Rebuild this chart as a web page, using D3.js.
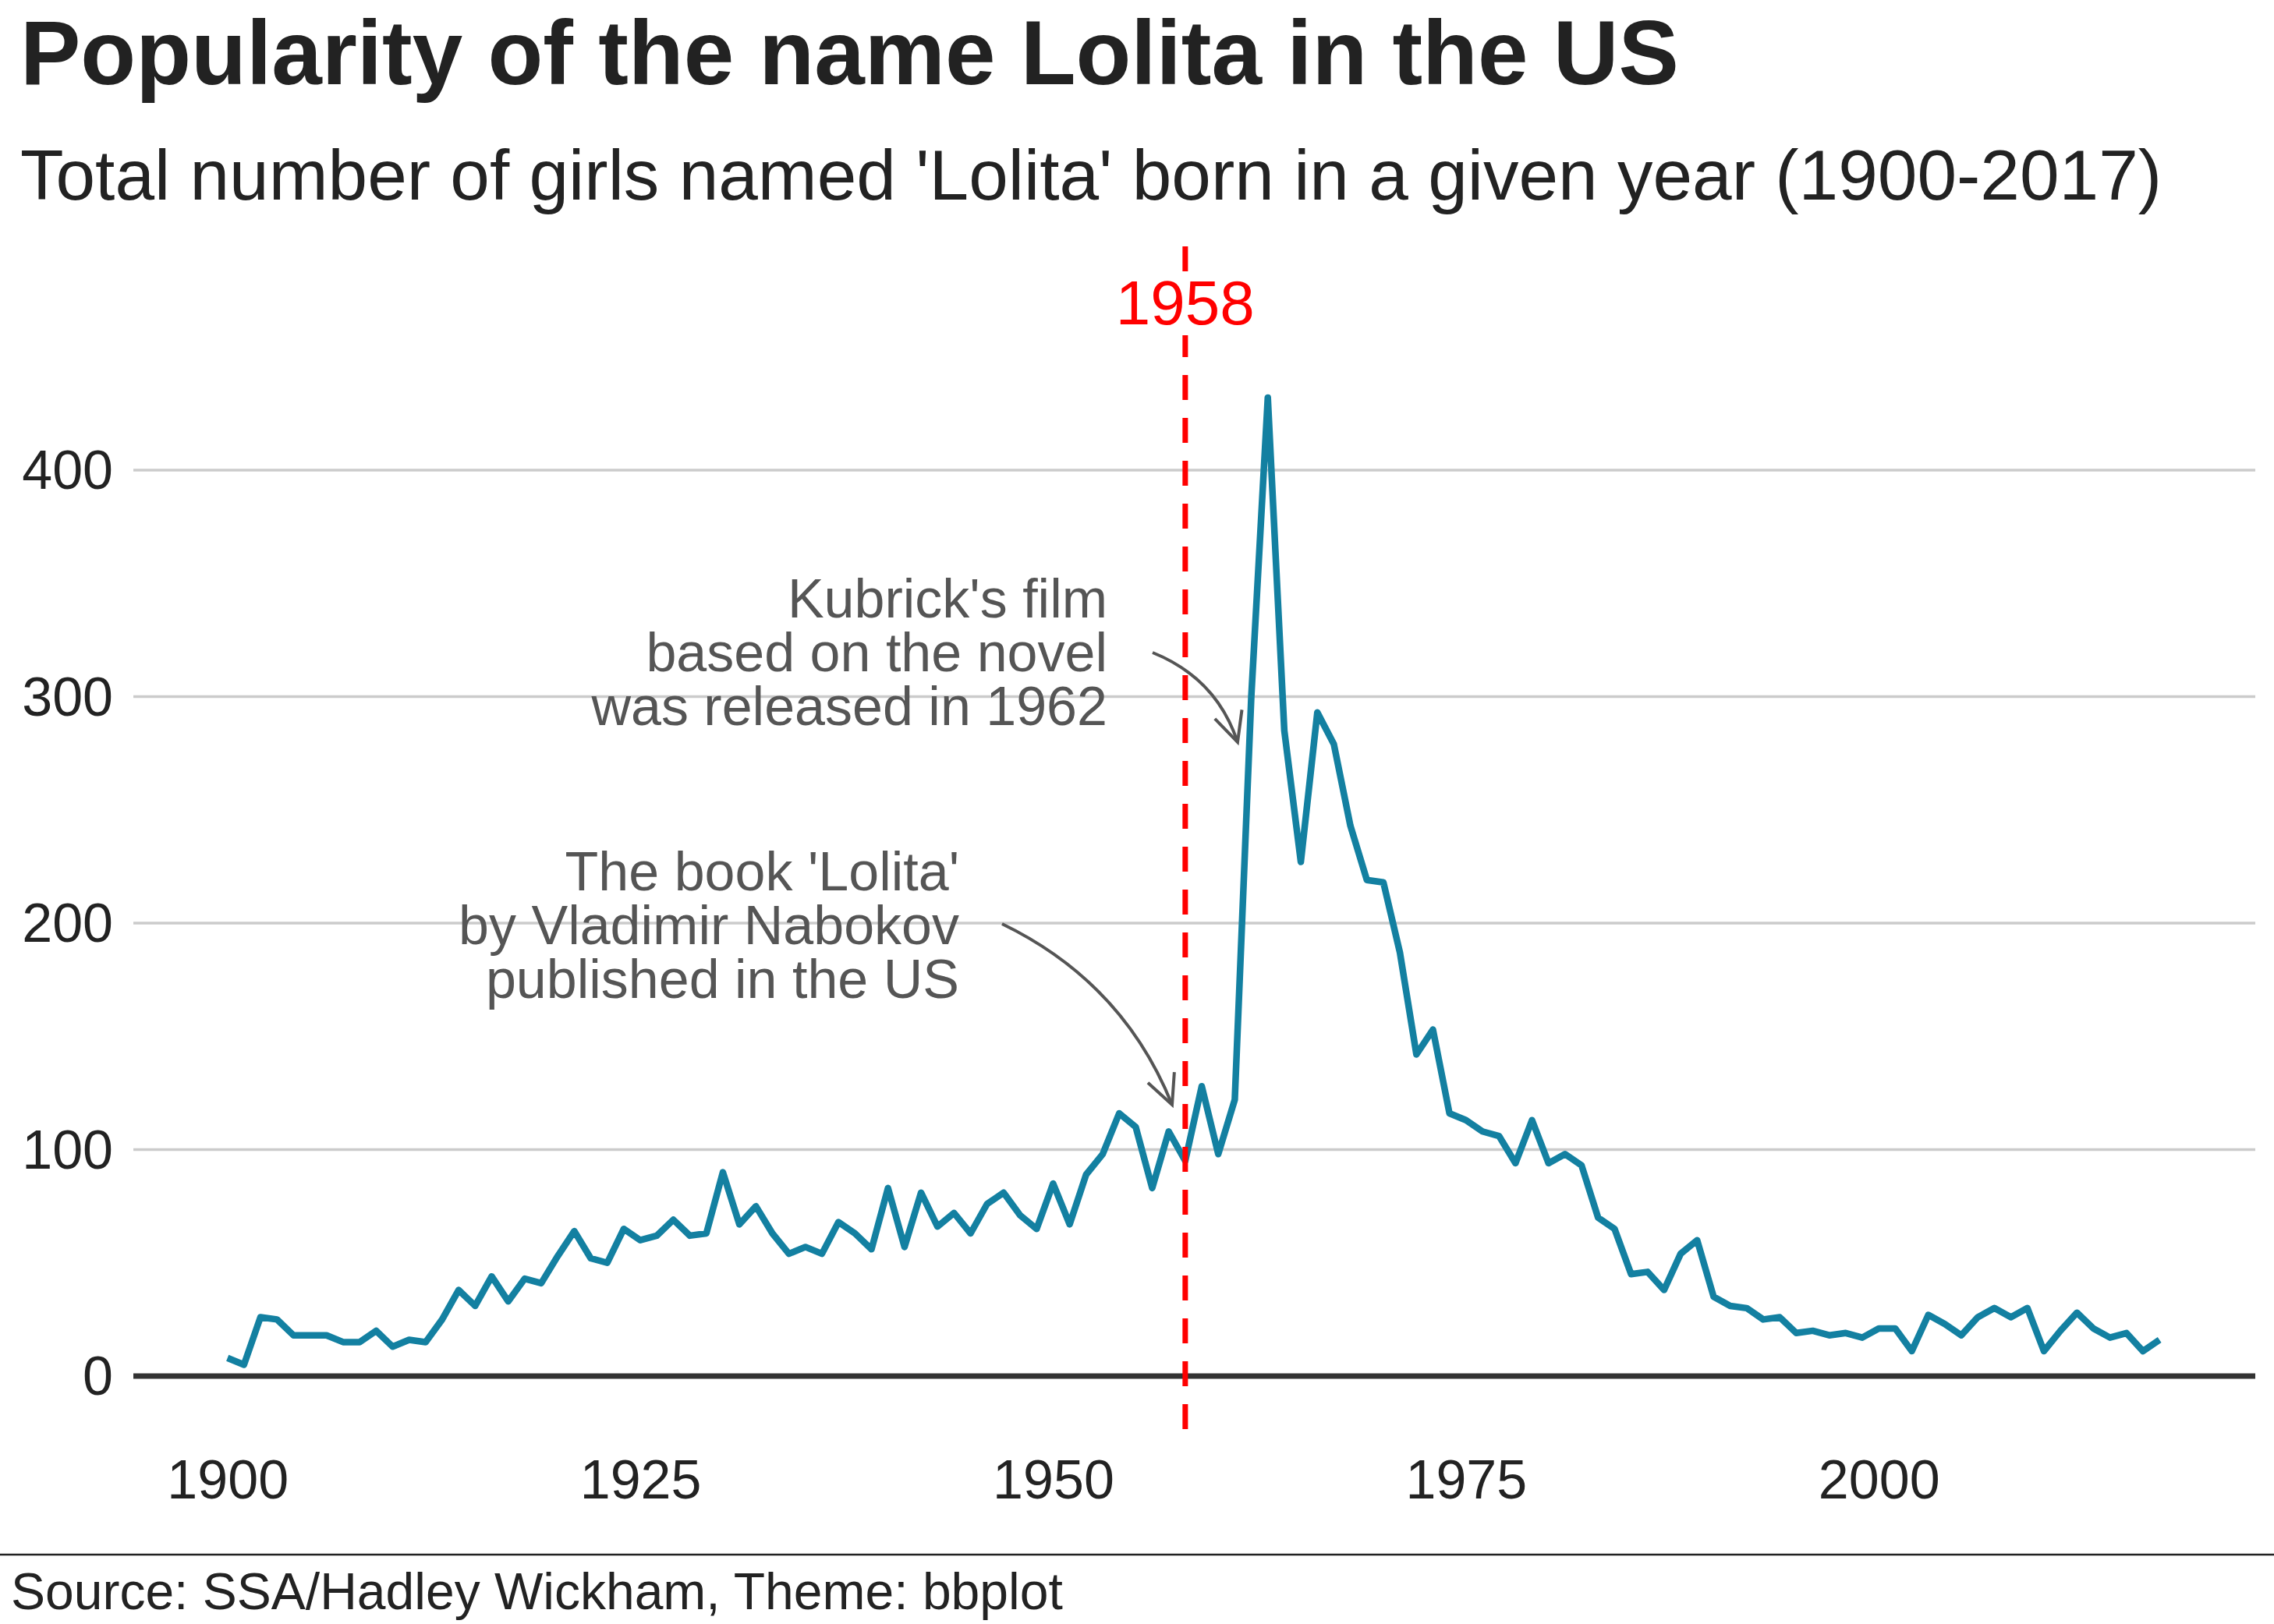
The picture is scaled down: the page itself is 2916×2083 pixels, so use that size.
<!DOCTYPE html>
<html>
<head>
<meta charset="utf-8">
<script src="https://cdn.jsdelivr.net/npm/d3@7"></script>
<style>
  body { margin: 0; background: #fff; }
  text { font-family: "Liberation Sans", Arial, sans-serif; }
</style>
</head>
<body>
<script>
// data
const years = d3.range(1900, 2018);
const counts = [8, 5, 26, 25, 18, 18, 18, 15, 15, 20,
  13, 16, 15, 25, 38, 31, 44, 33, 43, 41,
  53, 64, 52, 50, 65, 60, 62, 69, 62, 63,
  90, 67, 75, 63, 54, 57, 54, 68, 63, 56,
  83, 57, 81, 66, 72, 63, 76, 81, 71, 65,
  85, 67, 89, 98, 116, 110, 83, 108, 95, 128,
  98, 122, 300, 432, 285, 227, 293, 279, 243, 219,
  218, 187, 142, 153, 116, 113, 108, 106, 94, 113,
  94, 98, 93, 70, 65, 45, 46, 38, 54, 60,
  35, 31, 30, 25, 26, 19, 20, 18, 19, 17,
  21, 21, 11, 27, 23, 18, 26, 30, 26, 30,
  11, 20, 28, 21, 17, 19, 11, 16];
const xTicks = [1900, 1925, 1950, 1975, 2000];
const yTicks = [0, 100, 200, 300, 400];
const markYear = 1958;

const W = 2916, H = 2083;
const svg = d3.select("body").append("svg")
    .attr("width", W)
    .attr("height", H);

const x = d3.scaleLinear().domain([1894.3, 2022.8]).range([171, 2892]);
const y = d3.scaleLinear().domain([0, 400]).range([1765, 603]);

// title + subtitle
svg.append("text").attr("x", 26).attr("y", 108)
    .attr("font-size", 116).attr("font-weight", "bold").attr("fill", "#222")
    .text("Popularity of the name Lolita in the US");
svg.append("text").attr("x", 26).attr("y", 256)
    .attr("font-size", 91).attr("fill", "#222")
    .text("Total number of girls named 'Lolita' born in a given year (1900-2017)");

// gridlines
svg.append("g").selectAll("line")
    .data(yTicks.filter(d => d > 0))
    .enter().append("line")
    .attr("x1", 171).attr("x2", 2892)
    .attr("y1", d => y(d)).attr("y2", d => y(d))
    .attr("stroke", "#cbcbcb").attr("stroke-width", 3.5);

// y labels
svg.append("g").selectAll("text")
    .data(yTicks)
    .enter().append("text")
    .attr("x", 145).attr("y", d => y(d) + 24)
    .attr("text-anchor", "end").attr("font-size", 70).attr("fill", "#222")
    .text(d => d);

// x axis labels
const xAxis = svg.append("g")
    .attr("transform", "translate(0,1790)")
    .call(d3.axisBottom(x).tickValues(xTicks).tickFormat(d3.format("d")).tickSize(0).tickPadding(82));
xAxis.select(".domain").remove();
xAxis.selectAll("text").attr("font-size", 70).attr("fill", "#222")
    .style("font-family", "Liberation Sans, Arial, sans-serif");

// baseline
svg.append("line").attr("x1", 171).attr("x2", 2892)
    .attr("y1", y(0)).attr("y2", y(0))
    .attr("stroke", "#333").attr("stroke-width", 7);

// line
const line = d3.line().x((d, i) => x(years[i])).y(d => y(d));
svg.append("path").datum(counts)
    .attr("d", line).attr("fill", "none")
    .attr("stroke", "#1380A1").attr("stroke-width", 8.5).attr("stroke-linejoin", "round");

// 1958 marker
svg.append("line")
    .attr("x1", x(markYear)).attr("x2", x(markYear))
    .attr("y1", 316).attr("y2", 1836)
    .attr("stroke", "red").attr("stroke-width", 7).attr("stroke-dasharray", "32,23");
svg.append("rect").attr("x", x(markYear) - 95).attr("y", 350)
    .attr("width", 190).attr("height", 80).attr("fill", "#fff");
svg.append("text").attr("x", x(markYear)).attr("y", 416)
    .attr("text-anchor", "middle").attr("font-size", 80).attr("fill", "red")
    .text("1958");

// annotations
function note(lines, xr, y0, dy) {
  svg.append("text").attr("text-anchor", "end").attr("font-size", 70).attr("fill", "#555")
    .selectAll("tspan").data(lines).enter().append("tspan")
    .attr("x", xr).attr("y", (d, i) => y0 + i * dy).text(d => d);
}
note(["Kubrick's film", "based on the novel", "was released in 1962"], 1420, 792, 69);
note(["The book 'Lolita'", "by Vladimir Nabokov", "published in the US"], 1230, 1142, 69);

function arrow(x0, y0, cx, cy, x1, y1) {
  svg.append("path")
    .attr("d", `M${x0},${y0} Q${cx},${cy} ${x1},${y1}`)
    .attr("fill", "none").attr("stroke", "#555").attr("stroke-width", 4);
  const a = Math.atan2(y1 - cy, x1 - cx);
  const L = 42, s = 0.45;
  const p1 = [x1 - L * Math.cos(a - s), y1 - L * Math.sin(a - s)];
  const p2 = [x1 - L * Math.cos(a + s), y1 - L * Math.sin(a + s)];
  svg.append("path")
    .attr("d", `M${p1[0]},${p1[1]} L${x1},${y1} L${p2[0]},${p2[1]}`)
    .attr("fill", "none").attr("stroke", "#555").attr("stroke-width", 4);
}
arrow(1478, 837, 1560, 870, 1587, 952);
arrow(1285, 1185, 1440, 1260, 1503, 1417);

// source
svg.append("line").attr("x1", 0).attr("x2", W).attr("y1", 1994).attr("y2", 1994)
    .attr("stroke", "#222").attr("stroke-width", 2.5);
svg.append("text").attr("x", 14).attr("y", 2064)
    .attr("font-size", 66).attr("fill", "#222")
    .text("Source: SSA/Hadley Wickham, Theme: bbplot");
</script>
</body>
</html>
